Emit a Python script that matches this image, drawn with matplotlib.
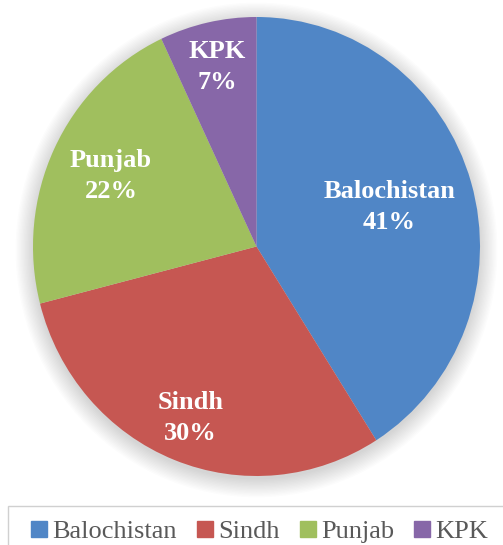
import numpy as np
import matplotlib.pyplot as plt
from matplotlib.patches import Ellipse, Rectangle
from matplotlib.lines import Line2D

plt.rcParams['font.family'] = ['Liberation Serif', 'DejaVu Serif']

regions = ['Balochistan', 'Sindh', 'Punjab', 'KPK']
shares = [41, 30, 22, 7]
colors = ['#5086C6', '#C65752', '#A0BF5E', '#8767A8']
label_r = [0.62, 0.805, 0.72, 0.80]

fig = plt.figure(figsize=(5.03, 5.45), dpi=100)
fig.patch.set_facecolor('white')

# pie axes: center ~ (256.5, 246.5) px, radii ~223.5 x 229.5 px
cx, cy, rx, ry = 256.5, 246.5, 223.5, 229.5
ax = fig.add_axes([(cx - rx) / 503, (545 - cy - ry) / 545, 2 * rx / 503, 2 * ry / 545])
ax.axis('off')

# soft shadow / glow behind the pie
for k in range(14):
    ax.add_patch(Ellipse((0.0, -0.015), 2 * (1.0 + k * 0.006), 2 * (1.0 + k * 0.006),
                         color='black', alpha=0.012, lw=0, zorder=0, clip_on=False))

wedges, _ = ax.pie(shares, colors=colors, startangle=90, counterclock=False,
                   radius=1.0, wedgeprops=dict(linewidth=0))
for w in wedges:
    w.set_zorder(2)
ax.set_xlim(-1, 1)
ax.set_ylim(-1, 1)
ax.set_aspect('auto')

for w, name, val, r in zip(wedges, regions, shares, label_r):
    ang = np.deg2rad((w.theta1 + w.theta2) / 2)
    ax.text(r * np.cos(ang), r * np.sin(ang), f"{name}\n{val}%",
            ha='center', va='center', color='white', fontsize=19,
            fontweight='bold', linespacing=1.45, zorder=3)

# legend box (runs off the right and bottom edge as in the source)
fig.patches.append(Rectangle((8 / 503, -0.05), 1.0, 0.05 + (545 - 506) / 545,
                             transform=fig.transFigure, facecolor='white',
                             edgecolor='#D0D0D0', lw=1.0))

handles = [Line2D([], [], linestyle='none', marker='s', markersize=11,
                  markerfacecolor=c, markeredgecolor=c) for c in colors]
fig.legend(handles, regions, loc='center left',
           bbox_to_anchor=(31 / 503, 1 - 531 / 545), ncol=4, frameon=False,
           fontsize=19, handlelength=0.6, handletextpad=0.2,
           columnspacing=0.77, labelcolor='#595959', borderpad=0,
           borderaxespad=0)

fig.savefig('out.png', dpi=100)
